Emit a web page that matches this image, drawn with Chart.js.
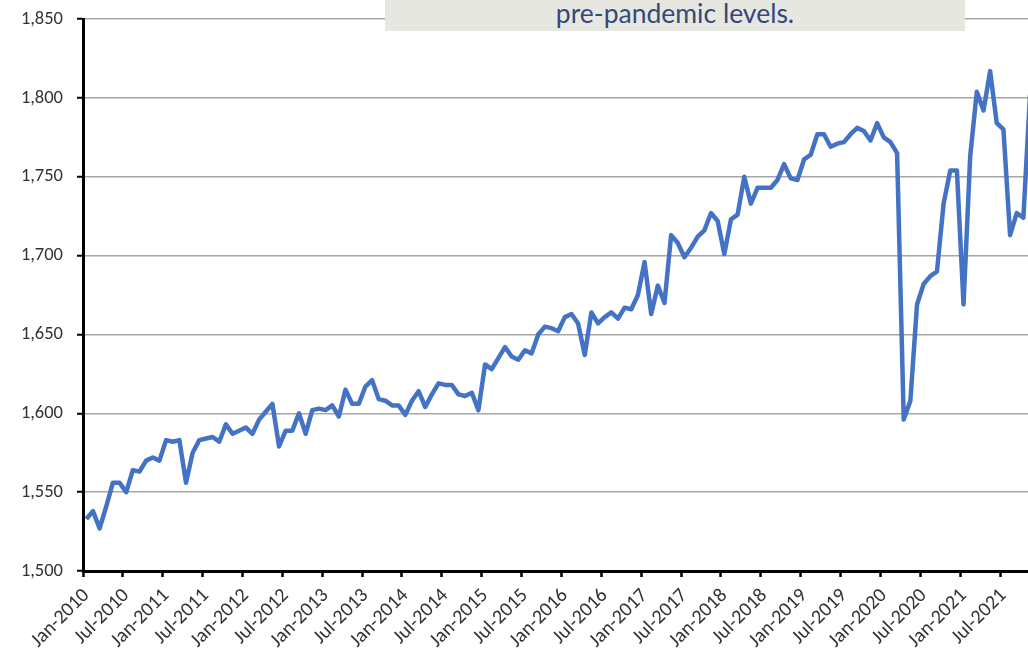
<!DOCTYPE html>
<html>
<head>
<meta charset="utf-8">
<script src="https://cdn.jsdelivr.net/npm/chart.js@4"></script>
<style>
  html, body { margin: 0; padding: 0; background: #fff; overflow: hidden; width: 1028px; height: 667px; }
  #wrap { position: relative; width: 1054px; height: 667px; }
  #c { position: absolute; left: 0; top: -6px; }
  #note {
    position: absolute; left: 385px; top: 0; width: 580px; height: 31px;
    background: #E7E7E2; color: #34497A;
    font-family: 'Lato', 'DejaVu Sans', sans-serif; font-size: 26.5px;
    text-align: center; line-height: 26px; overflow: hidden;
  }
  #note span { position: absolute; left: 0; right: 0; bottom: 5px; }
</style>
</head>
<body>
<div id="wrap">
  <canvas id="c" width="1054" height="673"></canvas>
  <div id="note"><span>pre-pandemic levels.</span></div>
</div>
<script>
const months = ['Jan','Feb','Mar','Apr','May','Jun','Jul','Aug','Sep','Oct','Nov','Dec'];
const years = [2010, 2011, 2012, 2013, 2014, 2015, 2016, 2017, 2018, 2019, 2020, 2021];

const v2010 = [1533, 1538, 1527, 1541, 1556, 1556, 1550, 1564, 1563, 1570, 1572, 1570];
const v2011 = [1583, 1582, 1583, 1556, 1575, 1583, 1584, 1585, 1582, 1593, 1587, 1589];
const v2012 = [1591, 1587, 1596, 1601, 1606, 1579, 1589, 1589, 1600, 1587, 1602, 1603];
const v2013 = [1602, 1605, 1598, 1615, 1606, 1606, 1617, 1621, 1609, 1608, 1605, 1605];
const v2014 = [1599, 1608, 1614, 1604, 1612, 1619, 1618, 1618, 1612, 1611, 1613, 1602];
const v2015 = [1631, 1628, 1635, 1642, 1636, 1634, 1640, 1638, 1650, 1655, 1654, 1652];
const v2016 = [1661, 1663, 1657, 1637, 1664, 1657, 1661, 1664, 1660, 1667, 1666, 1675];
const v2017 = [1696, 1663, 1681, 1670, 1713, 1708, 1699, 1705, 1712, 1716, 1727, 1722];
const v2018 = [1701, 1723, 1726, 1750, 1733, 1743, 1743, 1743, 1748, 1758, 1749, 1748];
const v2019 = [1761, 1764, 1777, 1777, 1769, 1771, 1772, 1777, 1781, 1779, 1773, 1784];
const v2020 = [1775, 1772, 1765, 1596, 1608, 1669, 1682, 1687, 1690, 1733, 1754, 1754];
const v2021 = [1669, 1763, 1804, 1792, 1817, 1784, 1780, 1713, 1727, 1724, 1802];

const yTicks = { min: 1500, max: 1850, step: 50 };

const series = [].concat(v2010, v2011, v2012, v2013, v2014, v2015, v2016, v2017, v2018, v2019, v2020, v2021);
const categories = [];
years.forEach(y => months.forEach(m => categories.push(m + '-' + y)));
categories.length = series.length;

const FONT = "Carlito, Lato, 'Liberation Sans', sans-serif";

new Chart(document.getElementById('c'), {
  type: 'line',
  data: {
    labels: categories,
    datasets: [{
      data: series,
      borderColor: '#4472C4',
      borderWidth: 4.5,
      borderJoinStyle: 'round',
      borderCapStyle: 'butt',
      pointRadius: 0,
      tension: 0,
      fill: false
    }]
  },
  options: {
    responsive: false,
    animation: false,
    layout: { padding: { top: 12, right: 6, left: 0, bottom: 0 } },
    plugins: { legend: { display: false }, tooltip: { enabled: false } },
    scales: {
      x: {
        type: 'category',
        offset: true,
        afterFit: s => { s.height = 96; },
        grid: {
          offset: true,
          drawOnChartArea: false,
          drawTicks: true,
          tickLength: 6,
          tickWidth: 2.5,
          tickColor: ctx => (ctx.index % 6 === 0 ? '#000000' : 'rgba(0,0,0,0)')
        },
        border: { display: true, color: '#000000', width: 3 },
        ticks: {
          autoSkip: false,
          minRotation: 45,
          maxRotation: 45,
          padding: 7,
          color: '#333333',
          font: { family: FONT, size: 20 },
          callback: function (val, idx) { return idx % 6 === 0 ? categories[idx] : ''; }
        }
      },
      y: {
        min: yTicks.min,
        max: yTicks.max,
        afterFit: s => { s.width = 83; },
        grid: {
          color: '#A6A6A6',
          lineWidth: 1.5,
          drawTicks: true,
          tickLength: 6,
          tickWidth: 2,
          tickColor: '#000000'
        },
        border: { display: true, color: '#000000', width: 3 },
        ticks: {
          stepSize: yTicks.step,
          padding: 14,
          color: '#333333',
          font: { family: FONT, size: 18.5 },
          callback: v => v.toLocaleString('en-US')
        }
      }
    }
  }
});
</script>
</body>
</html>
